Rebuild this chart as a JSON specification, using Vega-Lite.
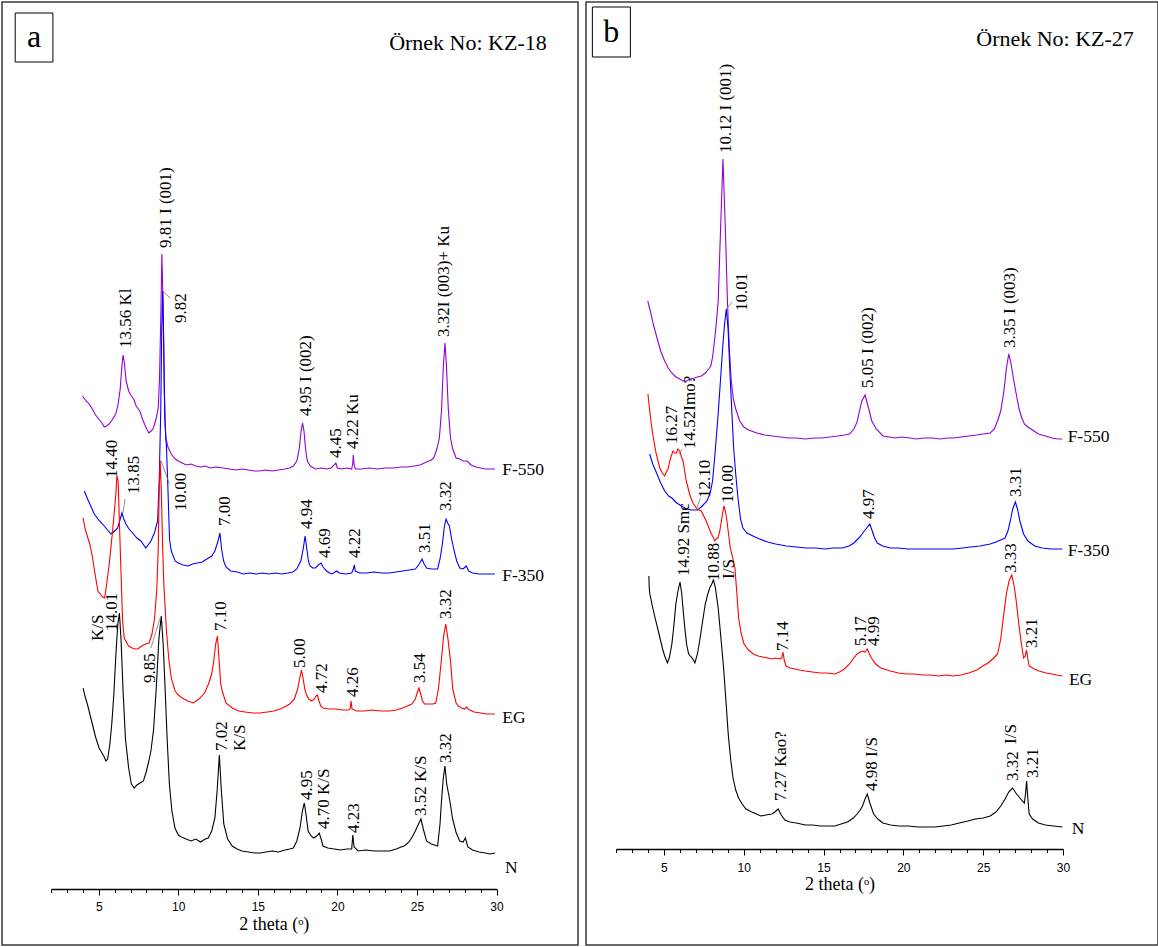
{
  "$schema": "https://vega.github.io/schema/vega-lite/v6.json",
  "padding": {"left": 1, "top": 1, "right": 1, "bottom": 1},
  "spacing": 6,
  "config": {
    "view": {"stroke": "#3a3a3a", "strokeWidth": 1.5},
    "font": "Liberation Serif",
    "text": {"font": "Liberation Serif", "color": "#000000"}
  },
  "datasets": {
    "traces_a": [
      {"sample":"F-550","theta":3.98,"intensity":493},{"sample":"F-550","theta":4.2,"intensity":488},{"sample":"F-550","theta":4.35,"intensity":486},{"sample":"F-550","theta":4.56,"intensity":481},{"sample":"F-550","theta":4.8,"intensity":474},{"sample":"F-550","theta":5.0,"intensity":470},{"sample":"F-550","theta":5.2,"intensity":466},{"sample":"F-550","theta":5.35,"intensity":462},{"sample":"F-550","theta":5.49,"intensity":463},{"sample":"F-550","theta":5.65,"intensity":465},{"sample":"F-550","theta":5.8,"intensity":468},{"sample":"F-550","theta":5.95,"intensity":472},{"sample":"F-550","theta":6.07,"intensity":475},{"sample":"F-550","theta":6.2,"intensity":483},{"sample":"F-550","theta":6.35,"intensity":500},{"sample":"F-550","theta":6.45,"intensity":522},{"sample":"F-550","theta":6.53,"intensity":534},{"sample":"F-550","theta":6.62,"intensity":525},{"sample":"F-550","theta":6.72,"intensity":508},{"sample":"F-550","theta":6.88,"intensity":498},{"sample":"F-550","theta":7.05,"intensity":493},{"sample":"F-550","theta":7.2,"intensity":490},{"sample":"F-550","theta":7.35,"intensity":483},{"sample":"F-550","theta":7.58,"intensity":478},{"sample":"F-550","theta":7.75,"intensity":470},{"sample":"F-550","theta":7.9,"intensity":464},{"sample":"F-550","theta":8.05,"intensity":459},{"sample":"F-550","theta":8.15,"intensity":456},{"sample":"F-550","theta":8.3,"intensity":458},{"sample":"F-550","theta":8.44,"intensity":461},{"sample":"F-550","theta":8.6,"intensity":470},{"sample":"F-550","theta":8.74,"intensity":481},{"sample":"F-550","theta":8.82,"intensity":510},{"sample":"F-550","theta":8.9,"intensity":570},{"sample":"F-550","theta":8.97,"intensity":635},{"sample":"F-550","theta":9.05,"intensity":580},{"sample":"F-550","theta":9.12,"intensity":500},{"sample":"F-550","theta":9.21,"intensity":451},{"sample":"F-550","theta":9.35,"intensity":442},{"sample":"F-550","theta":9.56,"intensity":435},{"sample":"F-550","theta":9.8,"intensity":430},{"sample":"F-550","theta":10.0,"intensity":428},{"sample":"F-550","theta":10.25,"intensity":426},{"sample":"F-550","theta":10.5,"intensity":424},{"sample":"F-550","theta":10.8,"intensity":425},{"sample":"F-550","theta":11.1,"intensity":423},{"sample":"F-550","theta":11.4,"intensity":422},{"sample":"F-550","theta":11.7,"intensity":423},{"sample":"F-550","theta":12.0,"intensity":421},{"sample":"F-550","theta":12.4,"intensity":422},{"sample":"F-550","theta":12.8,"intensity":421},{"sample":"F-550","theta":13.2,"intensity":420},{"sample":"F-550","theta":13.6,"intensity":419},{"sample":"F-550","theta":14.0,"intensity":420},{"sample":"F-550","theta":14.4,"intensity":419},{"sample":"F-550","theta":14.8,"intensity":418},{"sample":"F-550","theta":15.1,"intensity":418},{"sample":"F-550","theta":15.5,"intensity":419},{"sample":"F-550","theta":15.9,"intensity":418},{"sample":"F-550","theta":16.3,"intensity":419},{"sample":"F-550","theta":16.7,"intensity":420},{"sample":"F-550","theta":17.0,"intensity":421},{"sample":"F-550","theta":17.23,"intensity":423},{"sample":"F-550","theta":17.45,"intensity":428},{"sample":"F-550","theta":17.6,"intensity":440},{"sample":"F-550","theta":17.72,"intensity":458},{"sample":"F-550","theta":17.81,"intensity":466},{"sample":"F-550","theta":17.9,"intensity":458},{"sample":"F-550","theta":18.0,"intensity":440},{"sample":"F-550","theta":18.11,"intensity":428},{"sample":"F-550","theta":18.3,"intensity":423},{"sample":"F-550","theta":18.62,"intensity":420},{"sample":"F-550","theta":19.0,"intensity":421},{"sample":"F-550","theta":19.32,"intensity":420},{"sample":"F-550","theta":19.6,"intensity":421},{"sample":"F-550","theta":19.8,"intensity":424},{"sample":"F-550","theta":19.9,"intensity":426},{"sample":"F-550","theta":20.0,"intensity":421},{"sample":"F-550","theta":20.25,"intensity":420},{"sample":"F-550","theta":20.6,"intensity":421},{"sample":"F-550","theta":20.9,"intensity":420},{"sample":"F-550","theta":20.97,"intensity":426},{"sample":"F-550","theta":21.0,"intensity":434},{"sample":"F-550","theta":21.05,"intensity":424},{"sample":"F-550","theta":21.13,"intensity":420},{"sample":"F-550","theta":21.5,"intensity":420},{"sample":"F-550","theta":22.0,"intensity":421},{"sample":"F-550","theta":22.5,"intensity":420},{"sample":"F-550","theta":23.0,"intensity":421},{"sample":"F-550","theta":23.5,"intensity":421},{"sample":"F-550","theta":24.0,"intensity":422},{"sample":"F-550","theta":24.44,"intensity":422},{"sample":"F-550","theta":24.8,"intensity":423},{"sample":"F-550","theta":25.2,"intensity":424},{"sample":"F-550","theta":25.6,"intensity":427},{"sample":"F-550","theta":25.9,"intensity":429},{"sample":"F-550","theta":26.06,"intensity":431},{"sample":"F-550","theta":26.25,"intensity":440},{"sample":"F-550","theta":26.41,"intensity":451},{"sample":"F-550","theta":26.55,"intensity":480},{"sample":"F-550","theta":26.65,"intensity":520},{"sample":"F-550","theta":26.76,"intensity":546},{"sample":"F-550","theta":26.85,"intensity":525},{"sample":"F-550","theta":26.97,"intensity":480},{"sample":"F-550","theta":27.11,"intensity":451},{"sample":"F-550","theta":27.25,"intensity":440},{"sample":"F-550","theta":27.46,"intensity":431},{"sample":"F-550","theta":27.7,"intensity":430},{"sample":"F-550","theta":27.9,"intensity":428},{"sample":"F-550","theta":28.16,"intensity":428},{"sample":"F-550","theta":28.4,"intensity":424},{"sample":"F-550","theta":28.7,"intensity":422},{"sample":"F-550","theta":29.0,"intensity":421},{"sample":"F-550","theta":29.3,"intensity":420},{"sample":"F-550","theta":29.6,"intensity":420},{"sample":"F-550","theta":29.9,"intensity":420},

      {"sample":"F-350","theta":4.09,"intensity":398},{"sample":"F-350","theta":4.3,"intensity":390},{"sample":"F-350","theta":4.5,"intensity":383},{"sample":"F-350","theta":4.72,"intensity":375},{"sample":"F-350","theta":5.0,"intensity":369},{"sample":"F-350","theta":5.24,"intensity":365},{"sample":"F-350","theta":5.5,"intensity":360},{"sample":"F-350","theta":5.77,"intensity":355},{"sample":"F-350","theta":6.0,"intensity":358},{"sample":"F-350","theta":6.19,"intensity":361},{"sample":"F-350","theta":6.35,"intensity":370},{"sample":"F-350","theta":6.46,"intensity":376},{"sample":"F-350","theta":6.58,"intensity":370},{"sample":"F-350","theta":6.71,"intensity":365},{"sample":"F-350","theta":6.9,"intensity":360},{"sample":"F-350","theta":7.13,"intensity":356},{"sample":"F-350","theta":7.4,"intensity":351},{"sample":"F-350","theta":7.65,"intensity":348},{"sample":"F-350","theta":7.96,"intensity":341},{"sample":"F-350","theta":8.1,"intensity":344},{"sample":"F-350","theta":8.28,"intensity":348},{"sample":"F-350","theta":8.5,"intensity":356},{"sample":"F-350","theta":8.7,"intensity":368},{"sample":"F-350","theta":8.8,"intensity":408},{"sample":"F-350","theta":8.9,"intensity":480},{"sample":"F-350","theta":8.96,"intensity":560},{"sample":"F-350","theta":9.02,"intensity":598},{"sample":"F-350","theta":9.08,"intensity":550},{"sample":"F-350","theta":9.15,"intensity":470},{"sample":"F-350","theta":9.26,"intensity":441},{"sample":"F-350","theta":9.35,"intensity":400},{"sample":"F-350","theta":9.45,"intensity":350},{"sample":"F-350","theta":9.56,"intensity":338},{"sample":"F-350","theta":9.8,"intensity":328},{"sample":"F-350","theta":10.0,"intensity":326},{"sample":"F-350","theta":10.3,"intensity":324},{"sample":"F-350","theta":10.6,"intensity":323},{"sample":"F-350","theta":10.9,"intensity":325},{"sample":"F-350","theta":11.2,"intensity":326},{"sample":"F-350","theta":11.5,"intensity":327},{"sample":"F-350","theta":11.8,"intensity":330},{"sample":"F-350","theta":12.1,"intensity":333},{"sample":"F-350","theta":12.3,"intensity":338},{"sample":"F-350","theta":12.5,"intensity":348},{"sample":"F-350","theta":12.62,"intensity":356},{"sample":"F-350","theta":12.72,"intensity":340},{"sample":"F-350","theta":12.85,"intensity":328},{"sample":"F-350","theta":13.0,"intensity":322},{"sample":"F-350","theta":13.3,"intensity":318},{"sample":"F-350","theta":13.7,"intensity":317},{"sample":"F-350","theta":14.1,"intensity":315},{"sample":"F-350","theta":14.5,"intensity":316},{"sample":"F-350","theta":14.9,"intensity":315},{"sample":"F-350","theta":15.3,"intensity":316},{"sample":"F-350","theta":15.7,"intensity":315},{"sample":"F-350","theta":16.1,"intensity":316},{"sample":"F-350","theta":16.5,"intensity":315},{"sample":"F-350","theta":16.9,"intensity":316},{"sample":"F-350","theta":17.2,"intensity":317},{"sample":"F-350","theta":17.45,"intensity":320},{"sample":"F-350","theta":17.7,"intensity":328},{"sample":"F-350","theta":17.85,"intensity":340},{"sample":"F-350","theta":17.97,"intensity":353},{"sample":"F-350","theta":18.08,"intensity":340},{"sample":"F-350","theta":18.18,"intensity":328},{"sample":"F-350","theta":18.28,"intensity":323},{"sample":"F-350","theta":18.45,"intensity":321},{"sample":"F-350","theta":18.62,"intensity":321},{"sample":"F-350","theta":18.8,"intensity":324},{"sample":"F-350","theta":18.97,"intensity":326},{"sample":"F-350","theta":19.1,"intensity":322},{"sample":"F-350","theta":19.32,"intensity":318},{"sample":"F-350","theta":19.5,"intensity":316},{"sample":"F-350","theta":19.67,"intensity":315},{"sample":"F-350","theta":19.85,"intensity":317},{"sample":"F-350","theta":19.97,"intensity":318},{"sample":"F-350","theta":20.1,"intensity":316},{"sample":"F-350","theta":20.5,"intensity":315},{"sample":"F-350","theta":20.9,"intensity":316},{"sample":"F-350","theta":21.0,"intensity":320},{"sample":"F-350","theta":21.07,"intensity":324},{"sample":"F-350","theta":21.12,"intensity":318},{"sample":"F-350","theta":21.4,"intensity":316},{"sample":"F-350","theta":21.8,"intensity":316},{"sample":"F-350","theta":22.3,"intensity":317},{"sample":"F-350","theta":22.8,"intensity":316},{"sample":"F-350","theta":23.27,"intensity":316},{"sample":"F-350","theta":23.7,"intensity":317},{"sample":"F-350","theta":24.1,"intensity":318},{"sample":"F-350","theta":24.5,"intensity":319},{"sample":"F-350","theta":24.9,"intensity":320},{"sample":"F-350","theta":25.15,"intensity":325},{"sample":"F-350","theta":25.32,"intensity":330},{"sample":"F-350","theta":25.45,"intensity":325},{"sample":"F-350","theta":25.6,"intensity":321},{"sample":"F-350","theta":25.9,"intensity":320},{"sample":"F-350","theta":26.1,"intensity":320},{"sample":"F-350","theta":26.3,"intensity":320},{"sample":"F-350","theta":26.45,"intensity":330},{"sample":"F-350","theta":26.6,"intensity":345},{"sample":"F-350","theta":26.72,"intensity":362},{"sample":"F-350","theta":26.83,"intensity":370},{"sample":"F-350","theta":26.93,"intensity":366},{"sample":"F-350","theta":27.04,"intensity":363},{"sample":"F-350","theta":27.18,"intensity":350},{"sample":"F-350","theta":27.34,"intensity":338},{"sample":"F-350","theta":27.5,"intensity":328},{"sample":"F-350","theta":27.69,"intensity":321},{"sample":"F-350","theta":27.9,"intensity":320},{"sample":"F-350","theta":28.1,"intensity":323},{"sample":"F-350","theta":28.25,"intensity":318},{"sample":"F-350","theta":28.5,"intensity":316},{"sample":"F-350","theta":28.9,"intensity":315},{"sample":"F-350","theta":29.3,"intensity":315},{"sample":"F-350","theta":29.6,"intensity":315},{"sample":"F-350","theta":29.9,"intensity":315},

      {"sample":"EG","theta":4.02,"intensity":371},{"sample":"EG","theta":4.15,"intensity":360},{"sample":"EG","theta":4.3,"intensity":352},{"sample":"EG","theta":4.44,"intensity":345},{"sample":"EG","theta":4.6,"intensity":332},{"sample":"EG","theta":4.8,"intensity":312},{"sample":"EG","theta":4.95,"intensity":298},{"sample":"EG","theta":5.1,"intensity":295},{"sample":"EG","theta":5.25,"intensity":292},{"sample":"EG","theta":5.37,"intensity":291},{"sample":"EG","theta":5.5,"intensity":305},{"sample":"EG","theta":5.66,"intensity":325},{"sample":"EG","theta":5.87,"intensity":358},{"sample":"EG","theta":6.08,"intensity":395},{"sample":"EG","theta":6.14,"intensity":413},{"sample":"EG","theta":6.22,"intensity":408},{"sample":"EG","theta":6.35,"intensity":341},{"sample":"EG","theta":6.5,"intensity":268},{"sample":"EG","theta":6.6,"intensity":251},{"sample":"EG","theta":6.88,"intensity":243},{"sample":"EG","theta":7.1,"intensity":241},{"sample":"EG","theta":7.3,"intensity":240},{"sample":"EG","theta":7.46,"intensity":240},{"sample":"EG","theta":7.7,"intensity":243},{"sample":"EG","theta":7.95,"intensity":245},{"sample":"EG","theta":8.16,"intensity":246},{"sample":"EG","theta":8.35,"intensity":255},{"sample":"EG","theta":8.51,"intensity":271},{"sample":"EG","theta":8.65,"intensity":300},{"sample":"EG","theta":8.74,"intensity":340},{"sample":"EG","theta":8.8,"intensity":400},{"sample":"EG","theta":8.86,"intensity":428},{"sample":"EG","theta":8.93,"intensity":400},{"sample":"EG","theta":9.02,"intensity":340},{"sample":"EG","theta":9.09,"intensity":305},{"sample":"EG","theta":9.25,"intensity":260},{"sample":"EG","theta":9.4,"intensity":230},{"sample":"EG","theta":9.56,"intensity":211},{"sample":"EG","theta":9.8,"intensity":198},{"sample":"EG","theta":10.0,"intensity":194},{"sample":"EG","theta":10.25,"intensity":191},{"sample":"EG","theta":10.6,"intensity":188},{"sample":"EG","theta":10.95,"intensity":186},{"sample":"EG","theta":11.3,"intensity":190},{"sample":"EG","theta":11.65,"intensity":196},{"sample":"EG","theta":11.9,"intensity":205},{"sample":"EG","theta":12.1,"intensity":215},{"sample":"EG","theta":12.23,"intensity":228},{"sample":"EG","theta":12.35,"intensity":245},{"sample":"EG","theta":12.46,"intensity":253},{"sample":"EG","theta":12.58,"intensity":225},{"sample":"EG","theta":12.67,"intensity":205},{"sample":"EG","theta":12.76,"intensity":198},{"sample":"EG","theta":13.0,"intensity":186},{"sample":"EG","theta":13.39,"intensity":181},{"sample":"EG","theta":13.8,"intensity":178},{"sample":"EG","theta":14.2,"intensity":177},{"sample":"EG","theta":14.7,"intensity":176},{"sample":"EG","theta":15.14,"intensity":176},{"sample":"EG","theta":15.6,"intensity":177},{"sample":"EG","theta":16.0,"intensity":178},{"sample":"EG","theta":16.4,"intensity":180},{"sample":"EG","theta":16.8,"intensity":183},{"sample":"EG","theta":17.0,"intensity":185},{"sample":"EG","theta":17.3,"intensity":190},{"sample":"EG","theta":17.5,"intensity":200},{"sample":"EG","theta":17.65,"intensity":212},{"sample":"EG","theta":17.74,"intensity":219},{"sample":"EG","theta":17.85,"intensity":210},{"sample":"EG","theta":17.95,"intensity":200},{"sample":"EG","theta":18.04,"intensity":195},{"sample":"EG","theta":18.2,"intensity":190},{"sample":"EG","theta":18.39,"intensity":188},{"sample":"EG","theta":18.55,"intensity":190},{"sample":"EG","theta":18.65,"intensity":193},{"sample":"EG","theta":18.74,"intensity":194},{"sample":"EG","theta":18.85,"intensity":188},{"sample":"EG","theta":18.95,"intensity":183},{"sample":"EG","theta":19.09,"intensity":181},{"sample":"EG","theta":19.5,"intensity":180},{"sample":"EG","theta":19.9,"intensity":180},{"sample":"EG","theta":20.3,"intensity":179},{"sample":"EG","theta":20.7,"intensity":179},{"sample":"EG","theta":20.8,"intensity":180},{"sample":"EG","theta":20.86,"intensity":188},{"sample":"EG","theta":20.92,"intensity":180},{"sample":"EG","theta":21.2,"intensity":178},{"sample":"EG","theta":21.7,"intensity":178},{"sample":"EG","theta":22.2,"intensity":179},{"sample":"EG","theta":22.7,"intensity":178},{"sample":"EG","theta":23.27,"intensity":178},{"sample":"EG","theta":23.7,"intensity":179},{"sample":"EG","theta":24.1,"intensity":181},{"sample":"EG","theta":24.4,"intensity":183},{"sample":"EG","theta":24.67,"intensity":185},{"sample":"EG","theta":24.9,"intensity":190},{"sample":"EG","theta":25.03,"intensity":197},{"sample":"EG","theta":25.13,"intensity":201},{"sample":"EG","theta":25.25,"intensity":194},{"sample":"EG","theta":25.35,"intensity":188},{"sample":"EG","theta":25.48,"intensity":185},{"sample":"EG","theta":25.8,"intensity":185},{"sample":"EG","theta":26.0,"intensity":185},{"sample":"EG","theta":26.18,"intensity":186},{"sample":"EG","theta":26.35,"intensity":200},{"sample":"EG","theta":26.53,"intensity":228},{"sample":"EG","theta":26.67,"intensity":252},{"sample":"EG","theta":26.81,"intensity":265},{"sample":"EG","theta":26.95,"intensity":250},{"sample":"EG","theta":27.11,"intensity":228},{"sample":"EG","theta":27.25,"intensity":200},{"sample":"EG","theta":27.46,"intensity":186},{"sample":"EG","theta":27.6,"intensity":183},{"sample":"EG","theta":27.81,"intensity":181},{"sample":"EG","theta":28.0,"intensity":180},{"sample":"EG","theta":28.1,"intensity":182},{"sample":"EG","theta":28.3,"intensity":179},{"sample":"EG","theta":28.6,"intensity":177},{"sample":"EG","theta":29.0,"intensity":176},{"sample":"EG","theta":29.4,"intensity":175},{"sample":"EG","theta":29.9,"intensity":175},

      {"sample":"N","theta":4.02,"intensity":201},{"sample":"N","theta":4.15,"intensity":192},{"sample":"N","theta":4.3,"intensity":184},{"sample":"N","theta":4.44,"intensity":175},{"sample":"N","theta":4.6,"intensity":165},{"sample":"N","theta":4.8,"intensity":152},{"sample":"N","theta":5.02,"intensity":141},{"sample":"N","theta":5.2,"intensity":136},{"sample":"N","theta":5.35,"intensity":132},{"sample":"N","theta":5.45,"intensity":128},{"sample":"N","theta":5.56,"intensity":130},{"sample":"N","theta":5.7,"intensity":145},{"sample":"N","theta":5.82,"intensity":165},{"sample":"N","theta":5.95,"intensity":195},{"sample":"N","theta":6.08,"intensity":235},{"sample":"N","theta":6.2,"intensity":265},{"sample":"N","theta":6.3,"intensity":276},{"sample":"N","theta":6.4,"intensity":250},{"sample":"N","theta":6.53,"intensity":198},{"sample":"N","theta":6.68,"intensity":150},{"sample":"N","theta":6.88,"intensity":121},{"sample":"N","theta":7.05,"intensity":105},{"sample":"N","theta":7.23,"intensity":101},{"sample":"N","theta":7.4,"intensity":104},{"sample":"N","theta":7.6,"intensity":106},{"sample":"N","theta":7.81,"intensity":108},{"sample":"N","theta":8.0,"intensity":118},{"sample":"N","theta":8.15,"intensity":128},{"sample":"N","theta":8.28,"intensity":138},{"sample":"N","theta":8.45,"intensity":160},{"sample":"N","theta":8.63,"intensity":205},{"sample":"N","theta":8.78,"intensity":250},{"sample":"N","theta":8.93,"intensity":273},{"sample":"N","theta":9.05,"intensity":245},{"sample":"N","theta":9.16,"intensity":205},{"sample":"N","theta":9.3,"intensity":150},{"sample":"N","theta":9.44,"intensity":105},{"sample":"N","theta":9.6,"intensity":78},{"sample":"N","theta":9.79,"intensity":61},{"sample":"N","theta":10.0,"intensity":54},{"sample":"N","theta":10.2,"intensity":52},{"sample":"N","theta":10.49,"intensity":50},{"sample":"N","theta":10.8,"intensity":48},{"sample":"N","theta":11.1,"intensity":50},{"sample":"N","theta":11.4,"intensity":47},{"sample":"N","theta":11.7,"intensity":50},{"sample":"N","theta":11.88,"intensity":51},{"sample":"N","theta":12.1,"intensity":58},{"sample":"N","theta":12.3,"intensity":71},{"sample":"N","theta":12.45,"intensity":100},{"sample":"N","theta":12.58,"intensity":134},{"sample":"N","theta":12.7,"intensity":100},{"sample":"N","theta":12.86,"intensity":65},{"sample":"N","theta":13.1,"intensity":50},{"sample":"N","theta":13.39,"intensity":43},{"sample":"N","theta":13.7,"intensity":40},{"sample":"N","theta":14.0,"intensity":38},{"sample":"N","theta":14.4,"intensity":37},{"sample":"N","theta":14.8,"intensity":36},{"sample":"N","theta":15.14,"intensity":36},{"sample":"N","theta":15.5,"intensity":37},{"sample":"N","theta":15.9,"intensity":38},{"sample":"N","theta":16.3,"intensity":37},{"sample":"N","theta":16.7,"intensity":39},{"sample":"N","theta":17.0,"intensity":40},{"sample":"N","theta":17.23,"intensity":41},{"sample":"N","theta":17.45,"intensity":48},{"sample":"N","theta":17.65,"intensity":61},{"sample":"N","theta":17.8,"intensity":78},{"sample":"N","theta":17.92,"intensity":86},{"sample":"N","theta":18.05,"intensity":72},{"sample":"N","theta":18.16,"intensity":58},{"sample":"N","theta":18.35,"intensity":53},{"sample":"N","theta":18.51,"intensity":51},{"sample":"N","theta":18.7,"intensity":53},{"sample":"N","theta":18.86,"intensity":56},{"sample":"N","theta":18.98,"intensity":50},{"sample":"N","theta":19.09,"intensity":43},{"sample":"N","theta":19.4,"intensity":41},{"sample":"N","theta":19.8,"intensity":40},{"sample":"N","theta":20.2,"intensity":39},{"sample":"N","theta":20.6,"intensity":40},{"sample":"N","theta":20.9,"intensity":40},{"sample":"N","theta":20.97,"intensity":54},{"sample":"N","theta":21.05,"intensity":42},{"sample":"N","theta":21.3,"intensity":38},{"sample":"N","theta":21.8,"intensity":39},{"sample":"N","theta":22.3,"intensity":38},{"sample":"N","theta":22.8,"intensity":38},{"sample":"N","theta":23.27,"intensity":38},{"sample":"N","theta":23.7,"intensity":40},{"sample":"N","theta":24.0,"intensity":42},{"sample":"N","theta":24.2,"intensity":43},{"sample":"N","theta":24.5,"intensity":47},{"sample":"N","theta":24.7,"intensity":52},{"sample":"N","theta":24.9,"intensity":58},{"sample":"N","theta":25.1,"intensity":65},{"sample":"N","theta":25.25,"intensity":70},{"sample":"N","theta":25.4,"intensity":60},{"sample":"N","theta":25.6,"intensity":48},{"sample":"N","theta":25.9,"intensity":45},{"sample":"N","theta":26.1,"intensity":44},{"sample":"N","theta":26.3,"intensity":43},{"sample":"N","theta":26.45,"intensity":65},{"sample":"N","theta":26.53,"intensity":85},{"sample":"N","theta":26.65,"intensity":110},{"sample":"N","theta":26.76,"intensity":123},{"sample":"N","theta":26.87,"intensity":105},{"sample":"N","theta":26.99,"intensity":95},{"sample":"N","theta":27.1,"intensity":85},{"sample":"N","theta":27.23,"intensity":71},{"sample":"N","theta":27.45,"intensity":57},{"sample":"N","theta":27.69,"intensity":48},{"sample":"N","theta":27.9,"intensity":47},{"sample":"N","theta":28.04,"intensity":51},{"sample":"N","theta":28.2,"intensity":42},{"sample":"N","theta":28.5,"intensity":39},{"sample":"N","theta":28.9,"intensity":37},{"sample":"N","theta":29.3,"intensity":36},{"sample":"N","theta":29.6,"intensity":35},{"sample":"N","theta":29.9,"intensity":36}
    ],
    "traces_b": [
      {"sample":"F-550","theta":3.99,"intensity":548},{"sample":"F-550","theta":4.15,"intensity":538},{"sample":"F-550","theta":4.35,"intensity":524},{"sample":"F-550","theta":4.57,"intensity":511},{"sample":"F-550","theta":4.8,"intensity":498},{"sample":"F-550","theta":5.05,"intensity":488},{"sample":"F-550","theta":5.27,"intensity":481},{"sample":"F-550","theta":5.5,"intensity":476},{"sample":"F-550","theta":5.75,"intensity":472},{"sample":"F-550","theta":6.0,"intensity":470},{"sample":"F-550","theta":6.2,"intensity":468},{"sample":"F-550","theta":6.43,"intensity":468},{"sample":"F-550","theta":6.65,"intensity":470},{"sample":"F-550","theta":6.9,"intensity":471},{"sample":"F-550","theta":7.1,"intensity":472},{"sample":"F-550","theta":7.35,"intensity":473},{"sample":"F-550","theta":7.6,"intensity":476},{"sample":"F-550","theta":7.8,"intensity":480},{"sample":"F-550","theta":7.94,"intensity":483},{"sample":"F-550","theta":8.05,"intensity":492},{"sample":"F-550","theta":8.17,"intensity":508},{"sample":"F-550","theta":8.28,"intensity":525},{"sample":"F-550","theta":8.4,"intensity":548},{"sample":"F-550","theta":8.55,"intensity":620},{"sample":"F-550","theta":8.7,"intensity":690},{"sample":"F-550","theta":8.85,"intensity":620},{"sample":"F-550","theta":8.98,"intensity":548},{"sample":"F-550","theta":9.1,"intensity":500},{"sample":"F-550","theta":9.22,"intensity":468},{"sample":"F-550","theta":9.35,"intensity":450},{"sample":"F-550","theta":9.5,"intensity":440},{"sample":"F-550","theta":9.75,"intensity":428},{"sample":"F-550","theta":10.0,"intensity":422},{"sample":"F-550","theta":10.3,"intensity":419},{"sample":"F-550","theta":10.83,"intensity":416},{"sample":"F-550","theta":11.3,"intensity":414},{"sample":"F-550","theta":11.8,"intensity":413},{"sample":"F-550","theta":12.3,"intensity":412},{"sample":"F-550","theta":12.8,"intensity":411},{"sample":"F-550","theta":13.3,"intensity":411},{"sample":"F-550","theta":13.85,"intensity":410},{"sample":"F-550","theta":14.4,"intensity":411},{"sample":"F-550","theta":14.9,"intensity":411},{"sample":"F-550","theta":15.4,"intensity":412},{"sample":"F-550","theta":15.9,"intensity":413},{"sample":"F-550","theta":16.3,"intensity":414},{"sample":"F-550","theta":16.63,"intensity":415},{"sample":"F-550","theta":16.9,"intensity":420},{"sample":"F-550","theta":17.1,"intensity":427},{"sample":"F-550","theta":17.21,"intensity":435},{"sample":"F-550","theta":17.4,"intensity":448},{"sample":"F-550","theta":17.6,"intensity":454},{"sample":"F-550","theta":17.75,"intensity":445},{"sample":"F-550","theta":17.9,"intensity":436},{"sample":"F-550","theta":18.02,"intensity":428},{"sample":"F-550","theta":18.3,"intensity":420},{"sample":"F-550","theta":18.72,"intensity":413},{"sample":"F-550","theta":19.1,"intensity":412},{"sample":"F-550","theta":19.5,"intensity":411},{"sample":"F-550","theta":19.9,"intensity":412},{"sample":"F-550","theta":20.4,"intensity":411},{"sample":"F-550","theta":20.8,"intensity":410},{"sample":"F-550","theta":21.3,"intensity":411},{"sample":"F-550","theta":21.8,"intensity":411},{"sample":"F-550","theta":22.3,"intensity":410},{"sample":"F-550","theta":22.8,"intensity":411},{"sample":"F-550","theta":23.13,"intensity":411},{"sample":"F-550","theta":23.6,"intensity":412},{"sample":"F-550","theta":24.1,"intensity":413},{"sample":"F-550","theta":24.6,"intensity":414},{"sample":"F-550","theta":25.0,"intensity":415},{"sample":"F-550","theta":25.44,"intensity":416},{"sample":"F-550","theta":25.7,"intensity":420},{"sample":"F-550","theta":25.9,"intensity":428},{"sample":"F-550","theta":26.1,"intensity":438},{"sample":"F-550","theta":26.3,"intensity":458},{"sample":"F-550","theta":26.45,"intensity":480},{"sample":"F-550","theta":26.6,"intensity":495},{"sample":"F-550","theta":26.75,"intensity":485},{"sample":"F-550","theta":26.9,"intensity":470},{"sample":"F-550","theta":27.07,"intensity":455},{"sample":"F-550","theta":27.25,"intensity":440},{"sample":"F-550","theta":27.4,"intensity":432},{"sample":"F-550","theta":27.58,"intensity":425},{"sample":"F-550","theta":27.8,"intensity":422},{"sample":"F-550","theta":28.0,"intensity":420},{"sample":"F-550","theta":28.46,"intensity":415},{"sample":"F-550","theta":28.9,"intensity":413},{"sample":"F-550","theta":29.3,"intensity":411},{"sample":"F-550","theta":29.7,"intensity":410},{"sample":"F-550","theta":29.96,"intensity":410},

      {"sample":"F-350","theta":4.11,"intensity":395},{"sample":"F-350","theta":4.3,"intensity":385},{"sample":"F-350","theta":4.57,"intensity":375},{"sample":"F-350","theta":4.8,"intensity":366},{"sample":"F-350","theta":5.05,"intensity":358},{"sample":"F-350","theta":5.3,"intensity":353},{"sample":"F-350","theta":5.5,"intensity":351},{"sample":"F-350","theta":5.8,"intensity":346},{"sample":"F-350","theta":6.1,"intensity":343},{"sample":"F-350","theta":6.43,"intensity":340},{"sample":"F-350","theta":6.75,"intensity":339},{"sample":"F-350","theta":7.12,"intensity":339},{"sample":"F-350","theta":7.4,"intensity":343},{"sample":"F-350","theta":7.7,"intensity":348},{"sample":"F-350","theta":7.9,"intensity":356},{"sample":"F-350","theta":8.05,"intensity":368},{"sample":"F-350","theta":8.2,"intensity":395},{"sample":"F-350","theta":8.4,"intensity":435},{"sample":"F-350","theta":8.55,"intensity":470},{"sample":"F-350","theta":8.7,"intensity":505},{"sample":"F-350","theta":8.8,"intensity":525},{"sample":"F-350","theta":8.91,"intensity":540},{"sample":"F-350","theta":9.02,"intensity":520},{"sample":"F-350","theta":9.16,"intensity":468},{"sample":"F-350","theta":9.37,"intensity":401},{"sample":"F-350","theta":9.5,"intensity":375},{"sample":"F-350","theta":9.64,"intensity":351},{"sample":"F-350","theta":9.8,"intensity":330},{"sample":"F-350","theta":9.95,"intensity":321},{"sample":"F-350","theta":10.2,"intensity":316},{"sample":"F-350","theta":10.58,"intensity":313},{"sample":"F-350","theta":11.0,"intensity":310},{"sample":"F-350","theta":11.5,"intensity":307},{"sample":"F-350","theta":12.0,"intensity":305},{"sample":"F-350","theta":12.69,"intensity":303},{"sample":"F-350","theta":13.3,"intensity":302},{"sample":"F-350","theta":13.9,"intensity":301},{"sample":"F-350","theta":14.5,"intensity":301},{"sample":"F-350","theta":15.1,"intensity":300},{"sample":"F-350","theta":15.6,"intensity":301},{"sample":"F-350","theta":16.17,"intensity":301},{"sample":"F-350","theta":16.6,"intensity":303},{"sample":"F-350","theta":16.9,"intensity":306},{"sample":"F-350","theta":17.15,"intensity":310},{"sample":"F-350","theta":17.33,"intensity":313},{"sample":"F-350","theta":17.55,"intensity":318},{"sample":"F-350","theta":17.75,"intensity":322},{"sample":"F-350","theta":17.9,"intensity":325},{"sample":"F-350","theta":18.05,"intensity":318},{"sample":"F-350","theta":18.2,"intensity":311},{"sample":"F-350","theta":18.37,"intensity":306},{"sample":"F-350","theta":18.7,"intensity":303},{"sample":"F-350","theta":19.18,"intensity":301},{"sample":"F-350","theta":19.7,"intensity":301},{"sample":"F-350","theta":20.3,"intensity":300},{"sample":"F-350","theta":20.9,"intensity":300},{"sample":"F-350","theta":21.5,"intensity":300},{"sample":"F-350","theta":22.1,"intensity":300},{"sample":"F-350","theta":22.6,"intensity":300},{"sample":"F-350","theta":23.13,"intensity":300},{"sample":"F-350","theta":23.7,"intensity":301},{"sample":"F-350","theta":24.2,"intensity":302},{"sample":"F-350","theta":24.8,"intensity":303},{"sample":"F-350","theta":25.44,"intensity":305},{"sample":"F-350","theta":25.8,"intensity":307},{"sample":"F-350","theta":26.1,"intensity":309},{"sample":"F-350","theta":26.37,"intensity":311},{"sample":"F-350","theta":26.55,"intensity":318},{"sample":"F-350","theta":26.7,"intensity":328},{"sample":"F-350","theta":26.85,"intensity":340},{"sample":"F-350","theta":27.02,"intensity":347},{"sample":"F-350","theta":27.15,"intensity":340},{"sample":"F-350","theta":27.3,"intensity":328},{"sample":"F-350","theta":27.53,"intensity":315},{"sample":"F-350","theta":27.8,"intensity":308},{"sample":"F-350","theta":28.23,"intensity":303},{"sample":"F-350","theta":28.7,"intensity":301},{"sample":"F-350","theta":29.2,"intensity":300},{"sample":"F-350","theta":29.6,"intensity":300},{"sample":"F-350","theta":29.96,"intensity":300},

      {"sample":"EG","theta":4.0,"intensity":455},{"sample":"EG","theta":4.1,"intensity":440},{"sample":"EG","theta":4.21,"intensity":425},{"sample":"EG","theta":4.35,"intensity":410},{"sample":"EG","theta":4.52,"intensity":395},{"sample":"EG","theta":4.74,"intensity":381},{"sample":"EG","theta":4.9,"intensity":376},{"sample":"EG","theta":5.05,"intensity":373},{"sample":"EG","theta":5.15,"intensity":377},{"sample":"EG","theta":5.26,"intensity":380},{"sample":"EG","theta":5.4,"intensity":390},{"sample":"EG","theta":5.57,"intensity":398},{"sample":"EG","theta":5.68,"intensity":396},{"sample":"EG","theta":5.78,"intensity":396},{"sample":"EG","theta":5.88,"intensity":400},{"sample":"EG","theta":5.99,"intensity":398},{"sample":"EG","theta":6.1,"intensity":392},{"sample":"EG","theta":6.2,"intensity":388},{"sample":"EG","theta":6.3,"intensity":378},{"sample":"EG","theta":6.4,"intensity":368},{"sample":"EG","theta":6.5,"intensity":362},{"sample":"EG","theta":6.61,"intensity":355},{"sample":"EG","theta":6.72,"intensity":350},{"sample":"EG","theta":6.82,"intensity":346},{"sample":"EG","theta":6.95,"intensity":343},{"sample":"EG","theta":7.07,"intensity":340},{"sample":"EG","theta":7.2,"intensity":339},{"sample":"EG","theta":7.34,"intensity":338},{"sample":"EG","theta":7.5,"intensity":333},{"sample":"EG","theta":7.65,"intensity":328},{"sample":"EG","theta":7.8,"intensity":322},{"sample":"EG","theta":7.97,"intensity":315},{"sample":"EG","theta":8.08,"intensity":312},{"sample":"EG","theta":8.18,"intensity":308},{"sample":"EG","theta":8.28,"intensity":310},{"sample":"EG","theta":8.39,"intensity":311},{"sample":"EG","theta":8.5,"intensity":318},{"sample":"EG","theta":8.6,"intensity":328},{"sample":"EG","theta":8.68,"intensity":336},{"sample":"EG","theta":8.76,"intensity":343},{"sample":"EG","theta":8.85,"intensity":338},{"sample":"EG","theta":8.95,"intensity":328},{"sample":"EG","theta":9.05,"intensity":315},{"sample":"EG","theta":9.16,"intensity":301},{"sample":"EG","theta":9.3,"intensity":292},{"sample":"EG","theta":9.45,"intensity":281},{"sample":"EG","theta":9.55,"intensity":260},{"sample":"EG","theta":9.68,"intensity":231},{"sample":"EG","theta":9.85,"intensity":215},{"sample":"EG","theta":10.02,"intensity":205},{"sample":"EG","theta":10.3,"intensity":199},{"sample":"EG","theta":10.6,"intensity":195},{"sample":"EG","theta":10.9,"intensity":193},{"sample":"EG","theta":11.2,"intensity":192},{"sample":"EG","theta":11.5,"intensity":191},{"sample":"EG","theta":11.76,"intensity":190},{"sample":"EG","theta":12.0,"intensity":191},{"sample":"EG","theta":12.25,"intensity":190},{"sample":"EG","theta":12.38,"intensity":191},{"sample":"EG","theta":12.46,"intensity":197},{"sample":"EG","theta":12.55,"intensity":188},{"sample":"EG","theta":12.65,"intensity":183},{"sample":"EG","theta":12.9,"intensity":181},{"sample":"EG","theta":13.2,"intensity":180},{"sample":"EG","theta":13.5,"intensity":179},{"sample":"EG","theta":13.85,"intensity":178},{"sample":"EG","theta":14.3,"intensity":177},{"sample":"EG","theta":14.8,"intensity":176},{"sample":"EG","theta":15.2,"intensity":176},{"sample":"EG","theta":15.71,"intensity":175},{"sample":"EG","theta":16.0,"intensity":177},{"sample":"EG","theta":16.3,"intensity":180},{"sample":"EG","theta":16.63,"intensity":185},{"sample":"EG","theta":16.85,"intensity":190},{"sample":"EG","theta":17.1,"intensity":195},{"sample":"EG","theta":17.3,"intensity":197},{"sample":"EG","theta":17.44,"intensity":198},{"sample":"EG","theta":17.6,"intensity":197},{"sample":"EG","theta":17.74,"intensity":200},{"sample":"EG","theta":17.85,"intensity":196},{"sample":"EG","theta":18.0,"intensity":191},{"sample":"EG","theta":18.26,"intensity":185},{"sample":"EG","theta":18.6,"intensity":181},{"sample":"EG","theta":19.18,"intensity":178},{"sample":"EG","theta":19.7,"intensity":176},{"sample":"EG","theta":20.2,"intensity":175},{"sample":"EG","theta":20.7,"intensity":175},{"sample":"EG","theta":21.2,"intensity":174},{"sample":"EG","theta":21.7,"intensity":174},{"sample":"EG","theta":22.2,"intensity":173},{"sample":"EG","theta":22.7,"intensity":174},{"sample":"EG","theta":23.13,"intensity":173},{"sample":"EG","theta":23.6,"intensity":174},{"sample":"EG","theta":24.1,"intensity":176},{"sample":"EG","theta":24.6,"intensity":179},{"sample":"EG","theta":24.98,"intensity":183},{"sample":"EG","theta":25.3,"intensity":186},{"sample":"EG","theta":25.6,"intensity":190},{"sample":"EG","theta":25.9,"intensity":195},{"sample":"EG","theta":26.1,"intensity":210},{"sample":"EG","theta":26.26,"intensity":231},{"sample":"EG","theta":26.45,"intensity":255},{"sample":"EG","theta":26.62,"intensity":268},{"sample":"EG","theta":26.79,"intensity":274},{"sample":"EG","theta":26.95,"intensity":262},{"sample":"EG","theta":27.07,"intensity":248},{"sample":"EG","theta":27.19,"intensity":231},{"sample":"EG","theta":27.35,"intensity":210},{"sample":"EG","theta":27.53,"intensity":191},{"sample":"EG","theta":27.63,"intensity":193},{"sample":"EG","theta":27.72,"intensity":199},{"sample":"EG","theta":27.8,"intensity":190},{"sample":"EG","theta":27.88,"intensity":183},{"sample":"EG","theta":28.2,"intensity":180},{"sample":"EG","theta":28.5,"intensity":178},{"sample":"EG","theta":28.93,"intensity":176},{"sample":"EG","theta":29.3,"intensity":175},{"sample":"EG","theta":29.6,"intensity":174},{"sample":"EG","theta":29.96,"intensity":173},

      {"sample":"N","theta":4.06,"intensity":273},{"sample":"N","theta":4.08,"intensity":262},{"sample":"N","theta":4.11,"intensity":256},{"sample":"N","theta":4.25,"intensity":245},{"sample":"N","theta":4.45,"intensity":231},{"sample":"N","theta":4.65,"intensity":218},{"sample":"N","theta":4.8,"intensity":208},{"sample":"N","theta":4.92,"intensity":200},{"sample":"N","theta":5.05,"intensity":193},{"sample":"N","theta":5.22,"intensity":186},{"sample":"N","theta":5.35,"intensity":192},{"sample":"N","theta":5.5,"intensity":205},{"sample":"N","theta":5.61,"intensity":221},{"sample":"N","theta":5.75,"intensity":245},{"sample":"N","theta":5.88,"intensity":258},{"sample":"N","theta":6.01,"intensity":267},{"sample":"N","theta":6.12,"intensity":255},{"sample":"N","theta":6.2,"intensity":240},{"sample":"N","theta":6.31,"intensity":221},{"sample":"N","theta":6.42,"intensity":205},{"sample":"N","theta":6.55,"intensity":195},{"sample":"N","theta":6.7,"intensity":192},{"sample":"N","theta":6.82,"intensity":190},{"sample":"N","theta":6.94,"intensity":186},{"sample":"N","theta":7.1,"intensity":195},{"sample":"N","theta":7.24,"intensity":208},{"sample":"N","theta":7.4,"intensity":225},{"sample":"N","theta":7.59,"intensity":245},{"sample":"N","theta":7.75,"intensity":255},{"sample":"N","theta":7.87,"intensity":261},{"sample":"N","theta":8.0,"intensity":265},{"sample":"N","theta":8.1,"intensity":269},{"sample":"N","theta":8.22,"intensity":262},{"sample":"N","theta":8.4,"intensity":241},{"sample":"N","theta":8.55,"intensity":215},{"sample":"N","theta":8.74,"intensity":181},{"sample":"N","theta":8.9,"intensity":145},{"sample":"N","theta":9.03,"intensity":115},{"sample":"N","theta":9.18,"intensity":90},{"sample":"N","theta":9.33,"intensity":71},{"sample":"N","theta":9.5,"intensity":59},{"sample":"N","theta":9.68,"intensity":51},{"sample":"N","theta":9.9,"intensity":45},{"sample":"N","theta":10.14,"intensity":40},{"sample":"N","theta":10.5,"intensity":37},{"sample":"N","theta":10.8,"intensity":35},{"sample":"N","theta":11.07,"intensity":33},{"sample":"N","theta":11.4,"intensity":34},{"sample":"N","theta":11.76,"intensity":35},{"sample":"N","theta":11.95,"intensity":37},{"sample":"N","theta":12.16,"intensity":40},{"sample":"N","theta":12.35,"intensity":34},{"sample":"N","theta":12.58,"intensity":29},{"sample":"N","theta":12.9,"intensity":27},{"sample":"N","theta":13.3,"intensity":26},{"sample":"N","theta":13.85,"intensity":24},{"sample":"N","theta":14.3,"intensity":24},{"sample":"N","theta":14.8,"intensity":23},{"sample":"N","theta":15.2,"intensity":23},{"sample":"N","theta":15.71,"intensity":23},{"sample":"N","theta":16.1,"intensity":25},{"sample":"N","theta":16.5,"intensity":27},{"sample":"N","theta":16.87,"intensity":31},{"sample":"N","theta":17.1,"intensity":35},{"sample":"N","theta":17.3,"intensity":39},{"sample":"N","theta":17.44,"intensity":43},{"sample":"N","theta":17.6,"intensity":50},{"sample":"N","theta":17.74,"intensity":55},{"sample":"N","theta":17.9,"intensity":46},{"sample":"N","theta":18.14,"intensity":35},{"sample":"N","theta":18.4,"intensity":30},{"sample":"N","theta":18.72,"intensity":26},{"sample":"N","theta":19.2,"intensity":24},{"sample":"N","theta":19.7,"intensity":23},{"sample":"N","theta":20.3,"intensity":23},{"sample":"N","theta":20.9,"intensity":22},{"sample":"N","theta":21.5,"intensity":22},{"sample":"N","theta":21.97,"intensity":22},{"sample":"N","theta":22.5,"intensity":23},{"sample":"N","theta":23.0,"intensity":24},{"sample":"N","theta":23.5,"intensity":26},{"sample":"N","theta":24.05,"intensity":28},{"sample":"N","theta":24.5,"intensity":30},{"sample":"N","theta":25.0,"intensity":31},{"sample":"N","theta":25.44,"intensity":33},{"sample":"N","theta":25.8,"intensity":37},{"sample":"N","theta":26.1,"intensity":43},{"sample":"N","theta":26.37,"intensity":50},{"sample":"N","theta":26.6,"intensity":57},{"sample":"N","theta":26.84,"intensity":61},{"sample":"N","theta":27.05,"intensity":56},{"sample":"N","theta":27.3,"intensity":51},{"sample":"N","theta":27.45,"intensity":48},{"sample":"N","theta":27.58,"intensity":46},{"sample":"N","theta":27.65,"intensity":55},{"sample":"N","theta":27.72,"intensity":68},{"sample":"N","theta":27.8,"intensity":50},{"sample":"N","theta":27.88,"intensity":35},{"sample":"N","theta":28.1,"intensity":30},{"sample":"N","theta":28.46,"intensity":26},{"sample":"N","theta":28.9,"intensity":24},{"sample":"N","theta":29.4,"intensity":23},{"sample":"N","theta":29.96,"intensity":22}
    ],
    "labels_a": [
      {"label":"9.81 I (001)","theta":9.2,"intensity":641},
      {"label":"9.82","theta":10.19,"intensity":566},
      {"label":"13.56 Kl","theta":6.71,"intensity":541},
      {"label":"4.95 I (002)","theta":18.04,"intensity":473},
      {"label":"4.45","theta":19.93,"intensity":431},
      {"label":"4.22 Ku","theta":21.0,"intensity":440},
      {"label":"3.32I (003)+ Ku","theta":26.69,"intensity":552},
      {"label":"14.40","theta":5.83,"intensity":411},
      {"label":"13.85","theta":7.23,"intensity":395},
      {"label":"10.00","theta":10.19,"intensity":378},
      {"label":"7.00","theta":12.95,"intensity":363},
      {"label":"4.94","theta":18.07,"intensity":360},
      {"label":"4.69","theta":19.2,"intensity":331},
      {"label":"4.22","theta":21.11,"intensity":331},
      {"label":"3.51","theta":25.5,"intensity":336},
      {"label":"3.32","theta":26.83,"intensity":378},
      {"label":"14.01","theta":5.86,"intensity":258},
      {"label":"K/S","theta":4.95,"intensity":248},
      {"label":"9.85","theta":8.21,"intensity":206},
      {"label":"7.10","theta":12.67,"intensity":258},
      {"label":"5.00","theta":17.62,"intensity":221},
      {"label":"4.72","theta":19.02,"intensity":196},
      {"label":"4.26","theta":21.0,"intensity":192},
      {"label":"3.54","theta":25.2,"intensity":206},
      {"label":"3.32","theta":26.85,"intensity":270},
      {"label":"7.02","theta":12.74,"intensity":138},
      {"label":"K/S","theta":13.86,"intensity":138},
      {"label":"4.95","theta":18.09,"intensity":89},
      {"label":"4.70 K/S","theta":19.14,"intensity":60},
      {"label":"4.23","theta":21.02,"intensity":56},
      {"label":"3.52 K/S","theta":25.27,"intensity":73},
      {"label":"3.32","theta":26.83,"intensity":126}
    ],
    "labels_b": [
      {"label":"10.12 I (001)","theta":8.86,"intensity":696},
      {"label":"10.01","theta":9.89,"intensity":538},
      {"label":"5.05 I (002)","theta":17.79,"intensity":461},
      {"label":"3.35 I (003)","theta":26.67,"intensity":501},
      {"label":"4.97","theta":17.84,"intensity":330},
      {"label":"3.31","theta":27.05,"intensity":352},
      {"label":"16.27","theta":5.51,"intensity":405},
      {"label":"14.52Imo?","theta":6.61,"intensity":400},
      {"label":"12.10","theta":7.59,"intensity":351},
      {"label":"10.00","theta":9.03,"intensity":346},
      {"label":"14.92 Smc","theta":6.24,"intensity":273},
      {"label":"10.88","theta":8.12,"intensity":268},
      {"label":"I/S","theta":9.09,"intensity":270},
      {"label":"7.14","theta":12.46,"intensity":198},
      {"label":"5.17","theta":17.37,"intensity":203},
      {"label":"4.99","theta":18.19,"intensity":203},
      {"label":"3.33","theta":26.77,"intensity":276},
      {"label":"3.21","theta":28.04,"intensity":201},
      {"label":"7.27 Kao?","theta":12.34,"intensity":48},
      {"label":"4.98 I/S","theta":18.02,"intensity":58},
      {"label":"3.32","theta":26.88,"intensity":68},
      {"label":"I/S","theta":26.77,"intensity":105},
      {"label":"3.21","theta":28.11,"intensity":71}
    ],
    "leaders_a": [
      {"theta":9.01,"intensity":598,"theta2":9.49,"intensity2":591},
      {"theta":8.9,"intensity":429,"theta2":9.44,"intensity2":405},
      {"theta":6.53,"intensity":376,"theta2":6.65,"intensity2":390},
      {"theta":8.86,"intensity":271,"theta2":8.28,"intensity2":241}
    ],
    "leaders_b": [
      {"theta":8.91,"intensity":540,"theta2":9.28,"intensity2":547},
      {"theta":5.95,"intensity":395,"theta2":6.15,"intensity2":400},
      {"theta":7.03,"intensity":339,"theta2":7.28,"intensity2":351}
    ],
    "names_a": [
      {"name":"F-550","theta":30.36,"intensity":419},
      {"name":"F-350","theta":30.36,"intensity":313},
      {"name":"EG","theta":30.36,"intensity":171},
      {"name":"N","theta":30.53,"intensity":21}
    ],
    "names_b": [
      {"name":"F-550","theta":30.29,"intensity":412},
      {"name":"F-350","theta":30.29,"intensity":298},
      {"name":"EG","theta":30.37,"intensity":169},
      {"name":"N","theta":30.55,"intensity":20}
    ]
  },
  "hconcat": [
    {
      "width": 576,
      "height": 943,
      "resolve": {"axis": {"x": "independent"}},
      "layer": [
        {
          "data": {"name": "traces_a"},
          "mark": {"type": "line", "strokeWidth": 1.1},
          "encoding": {
            "x": {"field": "theta", "type": "quantitative",
              "scale": {"domain": [2, 30], "range": [49, 494.5], "nice": false, "zero": false},
              "axis": {"orient": "bottom", "offset": -56, "values": [5, 10, 15, 20, 25, 30],
                "domain": true, "domainColor": "#000000", "domainWidth": 1.6,
                "ticks": true, "tickColor": "#000000", "tickSize": 6, "tickWidth": 1,
                "grid": false, "labelFont": "Liberation Sans", "labelFontSize": 12, "labelColor": "#000000",
                "labelPadding": 6, "labelFlush": false, "labelOverlap": false,
                "title": "2 theta (ᵒ)", "titleFont": "Liberation Serif", "titleFontSize": 18, "titleFontWeight": "normal",
                "titleColor": "#000000", "titleBaseline": "alphabetic", "titleY": 40}},
            "y": {"field": "intensity", "type": "quantitative",
              "scale": {"domain": [0, 887], "range": [887, 0], "nice": false, "zero": false}, "axis": null},
            "color": {"field": "sample", "type": "nominal",
              "scale": {"domain": ["F-550", "F-350", "EG", "N"], "range": ["#9400D3", "#0000FF", "#FF0000", "#000000"]},
              "legend": null}
          }
        },
        {
          "data": {"name": "leaders_a"},
          "mark": {"type": "rule", "color": "#777777", "strokeWidth": 0.8},
          "encoding": {
            "x": {"field": "theta", "type": "quantitative",
              "axis": {"orient": "bottom", "offset": -56, "values": [2,3,4,6,7,8,9,11,12,13,14,16,17,18,19,21,22,23,24,26,27,28,29],
                "domain": false, "labels": false, "title": null, "grid": false,
                "ticks": true, "tickColor": "#000000", "tickSize": 3.5, "tickWidth": 1}},
            "y": {"field": "intensity", "type": "quantitative"},
            "x2": {"field": "theta2"},
            "y2": {"field": "intensity2"}
          }
        },
        {
          "data": {"name": "labels_a"},
          "mark": {"type": "text", "angle": 270, "align": "left", "baseline": "middle", "fontSize": 17, "font": "Liberation Serif", "color": "#000000"},
          "encoding": {
            "x": {"field": "theta", "type": "quantitative", "axis": null},
            "y": {"field": "intensity", "type": "quantitative"},
            "text": {"field": "label"}
          }
        },
        {
          "data": {"name": "names_a"},
          "mark": {"type": "text", "align": "left", "baseline": "middle", "fontSize": 17.5, "font": "Liberation Serif", "color": "#000000"},
          "encoding": {
            "x": {"field": "theta", "type": "quantitative", "axis": null},
            "y": {"field": "intensity", "type": "quantitative"},
            "text": {"field": "name"}
          }
        },
        {
          "data": {"values": [{"panel": "a", "theta": -0.25, "theta2": 2.12, "intensity": 827, "intensity2": 876}]},
          "mark": {"type": "rect", "fill": null, "fillOpacity": 0, "stroke": "#000000", "strokeWidth": 1},
          "encoding": {
            "x": {"field": "theta", "type": "quantitative", "axis": null},
            "x2": {"field": "theta2"},
            "y": {"field": "intensity", "type": "quantitative"},
            "y2": {"field": "intensity2"}
          }
        },
        {
          "data": {"values": [{"text": "a", "theta": 0.93, "intensity": 852}]},
          "mark": {"type": "text", "align": "center", "baseline": "middle", "fontSize": 32, "font": "Liberation Serif", "color": "#000000"},
          "encoding": {
            "x": {"field": "theta", "type": "quantitative", "axis": null},
            "y": {"field": "intensity", "type": "quantitative"},
            "text": {"field": "text"}
          }
        },
        {
          "data": {"values": [{"text": "Örnek No: KZ-18", "theta": 33.16, "intensity": 846}]},
          "mark": {"type": "text", "align": "right", "baseline": "middle", "fontSize": 22, "font": "Liberation Serif", "color": "#000000"},
          "encoding": {
            "x": {"field": "theta", "type": "quantitative", "axis": null},
            "y": {"field": "intensity", "type": "quantitative"},
            "text": {"field": "text"}
          }
        }
      ]
    },
    {
      "width": 572,
      "height": 943,
      "resolve": {"axis": {"x": "independent"}},
      "layer": [
        {
          "data": {"name": "traces_b"},
          "mark": {"type": "line", "strokeWidth": 1.1},
          "encoding": {
            "x": {"field": "theta", "type": "quantitative",
              "scale": {"domain": [2, 30], "range": [30, 477], "nice": false, "zero": false},
              "axis": {"orient": "bottom", "offset": -96, "values": [5, 10, 15, 20, 25, 30],
                "domain": true, "domainColor": "#000000", "domainWidth": 1.6,
                "ticks": true, "tickColor": "#000000", "tickSize": 6, "tickWidth": 1,
                "grid": false, "labelFont": "Liberation Sans", "labelFontSize": 12, "labelColor": "#000000",
                "labelPadding": 7, "labelFlush": false, "labelOverlap": false,
                "title": "2 theta (ᵒ)", "titleFont": "Liberation Serif", "titleFontSize": 18, "titleFontWeight": "normal",
                "titleColor": "#000000", "titleBaseline": "alphabetic", "titleY": 40}},
            "y": {"field": "intensity", "type": "quantitative",
              "scale": {"domain": [0, 847], "range": [847, 0], "nice": false, "zero": false}, "axis": null},
            "color": {"field": "sample", "type": "nominal",
              "scale": {"domain": ["F-550", "F-350", "EG", "N"], "range": ["#9400D3", "#0000FF", "#FF0000", "#000000"]},
              "legend": null}
          }
        },
        {
          "data": {"name": "leaders_b"},
          "mark": {"type": "rule", "color": "#777777", "strokeWidth": 0.8},
          "encoding": {
            "x": {"field": "theta", "type": "quantitative",
              "axis": {"orient": "bottom", "offset": -96, "values": [2,3,4,6,7,8,9,11,12,13,14,16,17,18,19,21,22,23,24,26,27,28,29],
                "domain": false, "labels": false, "title": null, "grid": false,
                "ticks": true, "tickColor": "#000000", "tickSize": 3.5, "tickWidth": 1}},
            "y": {"field": "intensity", "type": "quantitative"},
            "x2": {"field": "theta2"},
            "y2": {"field": "intensity2"}
          }
        },
        {
          "data": {"name": "labels_b"},
          "mark": {"type": "text", "angle": 270, "align": "left", "baseline": "middle", "fontSize": 17, "font": "Liberation Serif", "color": "#000000"},
          "encoding": {
            "x": {"field": "theta", "type": "quantitative", "axis": null},
            "y": {"field": "intensity", "type": "quantitative"},
            "text": {"field": "label"}
          }
        },
        {
          "data": {"name": "names_b"},
          "mark": {"type": "text", "align": "left", "baseline": "middle", "fontSize": 17.5, "font": "Liberation Serif", "color": "#000000"},
          "encoding": {
            "x": {"field": "theta", "type": "quantitative", "axis": null},
            "y": {"field": "intensity", "type": "quantitative"},
            "text": {"field": "name"}
          }
        },
        {
          "data": {"values": [{"panel": "b", "theta": 0.52, "theta2": 2.9, "intensity": 792, "intensity2": 842}]},
          "mark": {"type": "rect", "fill": null, "fillOpacity": 0, "stroke": "#000000", "strokeWidth": 1},
          "encoding": {
            "x": {"field": "theta", "type": "quantitative", "axis": null},
            "x2": {"field": "theta2"},
            "y": {"field": "intensity", "type": "quantitative"},
            "y2": {"field": "intensity2"}
          }
        },
        {
          "data": {"values": [{"text": "b", "theta": 1.71, "intensity": 817}]},
          "mark": {"type": "text", "align": "center", "baseline": "middle", "fontSize": 32, "font": "Liberation Serif", "color": "#000000"},
          "encoding": {
            "x": {"field": "theta", "type": "quantitative", "axis": null},
            "y": {"field": "intensity", "type": "quantitative"},
            "text": {"field": "text"}
          }
        },
        {
          "data": {"values": [{"text": "Örnek No: KZ-27", "theta": 34.44, "intensity": 810}]},
          "mark": {"type": "text", "align": "right", "baseline": "middle", "fontSize": 22, "font": "Liberation Serif", "color": "#000000"},
          "encoding": {
            "x": {"field": "theta", "type": "quantitative", "axis": null},
            "y": {"field": "intensity", "type": "quantitative"},
            "text": {"field": "text"}
          }
        }
      ]
    }
  ]
}
